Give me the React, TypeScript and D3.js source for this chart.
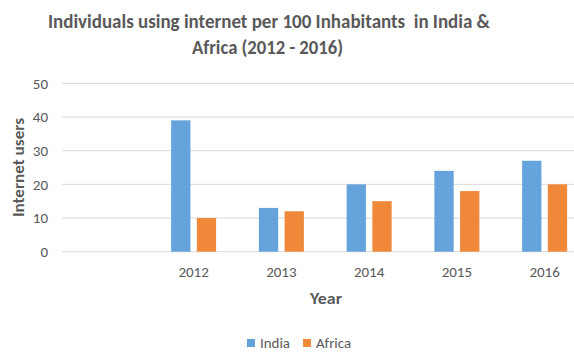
import React from "react";
import * as d3 from "d3";

const categories = ["", "2012", "2013", "2014", "2015", "2016"];
const seriesNames = ["India", "Africa"];
const indiaValues = [null, 39, 13, 20, 24, 27];
const africaValues = [null, 10, 12, 15, 18, 20];
const yTicks = [0, 10, 20, 30, 40, 50];
const titleLines = [
  "Individuals using internet per 100 Inhabitants  in India &",
  "Africa (2012 - 2016)",
];
const colors = ["#64A3DB", "#F0883A"];

const W = 574;
const H = 352;
const FONT = "Carlito, Calibri, Lato, 'Open Sans', sans-serif";

export default function App() {
  const x = d3.scaleBand<string>().domain(categories).range([62, 588.5]).padding(0);
  const y = d3.scaleLinear().domain([0, 50]).range([251.7, 83.3]);
  const inner = d3
    .scaleBand<string>()
    .domain(seriesNames)
    .range([-22.5, 22.5])
    .paddingInner(0.25);
  const series = [indiaValues, africaValues];

  return (
    <svg
      width={W}
      height={H}
      style={{ position: "absolute", left: 0, top: 0, display: "block", background: "#fff" }}
      fontFamily={FONT}
    >
      <rect x={0} y={0} width={W} height={H} fill="#fff" />
      {/* title */}
      <text x={269} y={27.5} textAnchor="middle" fontSize={20} fontWeight="bold" fill="#595959"
        textLength={442} lengthAdjust="spacingAndGlyphs" style={{ whiteSpace: "pre" }}>
        {titleLines[0]}
      </text>
      <text x={267.5} y={54} textAnchor="middle" fontSize={20} fontWeight="bold" fill="#595959"
        textLength={151} lengthAdjust="spacingAndGlyphs">
        {titleLines[1]}
      </text>
      {/* gridlines */}
      {yTicks.map((t) => (
        <line key={t} x1={62} x2={W} y1={y(t)} y2={y(t)} stroke="#D9D9D9" strokeWidth={1} />
      ))}
      {/* y tick labels */}
      {yTicks.map((t) => (
        <text key={"l" + t} x={48} y={y(t) + 5.3} textAnchor="end" fontSize={15} fill="#595959">
          {t}
        </text>
      ))}
      {/* bars */}
      {categories.map((c, i) =>
        series.map((vals, s) => {
          const v = vals[i];
          if (v == null) return null;
          const cx = (x(c) as number) + x.bandwidth() / 2;
          const bx = cx + (inner(seriesNames[s]) as number);
          return (
            <rect
              key={c + s}
              x={bx}
              y={y(v)}
              width={inner.bandwidth()}
              height={y(0) - y(v)}
              fill={colors[s]}
            />
          );
        })
      )}
      {/* x labels */}
      {categories.map((c) => (
        <text key={"x" + c} x={(x(c) as number) + x.bandwidth() / 2} y={277} textAnchor="middle"
          fontSize={15} fill="#595959">
          {c}
        </text>
      ))}
      {/* axis titles */}
      <text x={326} y={303.5} textAnchor="middle" fontSize={16} fontWeight="bold" fill="#595959"
        textLength={32} lengthAdjust="spacingAndGlyphs">
        Year
      </text>
      <text transform="translate(23.5,167.5) rotate(-90)" textAnchor="middle" fontSize={16}
        fontWeight="bold" fill="#595959" textLength={99} lengthAdjust="spacingAndGlyphs">
        Internet users
      </text>
      {/* legend */}
      <rect x={247} y={339} width={8} height={8} fill={colors[0]} />
      <text x={260} y={348} fontSize={14.5} fill="#595959" textLength={30} lengthAdjust="spacingAndGlyphs">
        {seriesNames[0]}
      </text>
      <rect x={303} y={339} width={8} height={8} fill={colors[1]} />
      <text x={316} y={348} fontSize={14.5} fill="#595959" textLength={35} lengthAdjust="spacingAndGlyphs">
        {seriesNames[1]}
      </text>
    </svg>
  );
}
